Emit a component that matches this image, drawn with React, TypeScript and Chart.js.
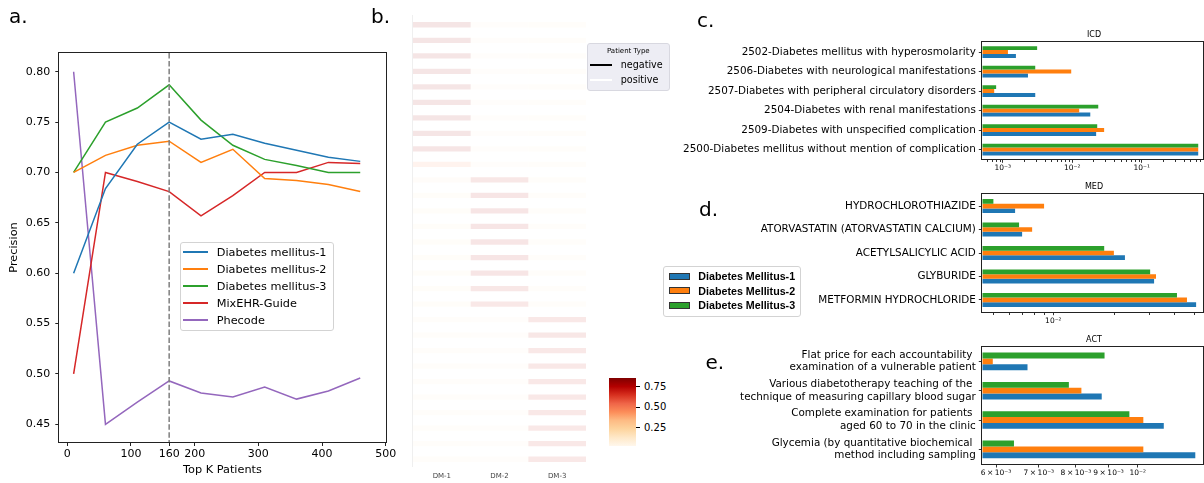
import React, { useEffect, useRef } from 'react';
import { Chart, registerables } from 'chart.js';

Chart.register(...registerables);

const FONT = "'DejaVu Sans', sans-serif";
const LEGEND_FONT = "'Liberation Sans', Arial, sans-serif";

// ---------- Panel a: precision vs top K ----------
const K_VALUES = [10, 60, 110, 160, 210, 260, 310, 360, 410, 460];
const DM1_PRECISION = [0.600, 0.684, 0.728, 0.750, 0.733, 0.738, 0.729, 0.722, 0.715, 0.711];
const DM2_PRECISION = [0.700, 0.717, 0.727, 0.731, 0.710, 0.723, 0.694, 0.692, 0.688, 0.681];
const DM3_PRECISION = [0.700, 0.750, 0.764, 0.787, 0.752, 0.727, 0.713, 0.707, 0.700, 0.700];
const MIXEHR_PRECISION = [0.500, 0.700, 0.691, 0.681, 0.657, 0.677, 0.700, 0.700, 0.710, 0.709];
const PHECODE_PRECISION = [0.800, 0.450, 0.472, 0.493, 0.481, 0.477, 0.487, 0.475, 0.483, 0.496];
const LINE_NAMES = ['Diabetes mellitus-1', 'Diabetes mellitus-2', 'Diabetes mellitus-3', 'MixEHR-Guide', 'Phecode'];
const LINE_COLORS = ['#1f77b4', '#ff7f0e', '#2ca02c', '#d62728', '#9467bd'];
const K_TICKS = [0, 100, 160, 200, 300, 400, 500];
const PRECISION_TICKS = [0.45, 0.5, 0.55, 0.6, 0.65, 0.7, 0.75, 0.8];
const CUTOFF_K = 160;

// ---------- Panel b: heatmap ----------
const HEAT_COLUMNS = ['DM-1', 'DM-2', 'DM-3'];
const HEAT_ROWS = Array.from({ length: 29 }, (_, i) => `patient ${i + 1}`);
const DM1_HEAT = [0.80, 0.80, 0.80, 0.80, 0.80, 0.80, 0.80, 0.80, 0.78, 0.45,
  0.14, 0.13, 0.13, 0.13, 0.13, 0.13, 0.13, 0.13, 0.13,
  0.11, 0.11, 0.11, 0.11, 0.11, 0.11, 0.11, 0.11, 0.11, 0.11];
const DM2_HEAT = [0.08, 0.08, 0.08, 0.08, 0.08, 0.08, 0.08, 0.08, 0.08, 0.08,
  0.72, 0.75, 0.75, 0.75, 0.75, 0.75, 0.75, 0.72, 0.70,
  0.08, 0.08, 0.08, 0.08, 0.08, 0.08, 0.08, 0.08, 0.08, 0.08];
const DM3_HEAT = [0.10, 0.10, 0.10, 0.10, 0.10, 0.10, 0.10, 0.10, 0.10, 0.10,
  0.10, 0.10, 0.10, 0.10, 0.10, 0.10, 0.10, 0.10, 0.10,
  0.70, 0.72, 0.70, 0.70, 0.70, 0.70, 0.70, 0.70, 0.70, 0.70];
const HEAT_MIN = 0.02;
const HEAT_MAX = 0.86;
const COLORBAR_TICKS = [0.75, 0.5, 0.25];
const ORRD = [
  [255, 247, 236], [254, 232, 200], [253, 212, 158], [253, 187, 132], [252, 141, 89],
  [239, 101, 72], [215, 48, 31], [179, 0, 0], [127, 0, 0],
];

// ---------- Panels c, d, e ----------
const BAR_NAMES = ['Diabetes Mellitus-1', 'Diabetes Mellitus-2', 'Diabetes Mellitus-3'];
const BLUE = '#1f77b4';
const ORANGE = '#ff7f0e';
const GREEN = '#2ca02c';

const ICD_LABELS = [
  '2502-Diabetes mellitus with hyperosmolarity',
  '2506-Diabetes with neurological manifestations',
  '2507-Diabetes with peripheral circulatory disorders',
  '2504-Diabetes with renal manifestations',
  '2509-Diabetes with unspecified complication',
  '2500-Diabetes mellitus without mention of complication',
];
const ICD_DM1 = [0.00155, 0.00231, 0.00294, 0.0182, 0.0221, 0.65];
const ICD_DM2 = [0.00119, 0.00968, 0.000755, 0.0126, 0.0288, 0.65];
const ICD_DM3 = [0.00313, 0.00294, 0.000805, 0.0237, 0.0229, 0.65];
const ICD_TICKS = [0.001, 0.01, 0.1];

const MED_LABELS = [
  'HYDROCHLOROTHIAZIDE',
  'ATORVASTATIN (ATORVASTATIN CALCIUM)',
  'ACETYLSALICYLIC ACID',
  'GLYBURIDE',
  'METFORMIN HYDROCHLORIDE',
];
const MED_DM1 = [0.00645, 0.00699, 0.0227, 0.0317, 0.0513];
const MED_DM2 = [0.00899, 0.00784, 0.0200, 0.0324, 0.0462];
const MED_DM3 = [0.00503, 0.00675, 0.0179, 0.0303, 0.0412];
const MED_TICKS = [0.01];

const ACT_LABELS = [
  ['Flat price for each accountability ', 'examination of a vulnerable patient'],
  ['Various diabetotherapy teaching of the ', 'technique of measuring capillary blood sugar'],
  ['Complete examination for patients ', 'aged 60 to 70 in the clinic'],
  ['Glycemia (by quantitative biochemical ', 'method including sampling'],
];
const ACT_DM1 = [0.00672, 0.00878, 0.01098, 0.0123];
const ACT_DM2 = [0.00593, 0.00816, 0.0102, 0.0102];
const ACT_DM3 = [0.00887, 0.0078, 0.0097, 0.0064];
const ACT_TICKS = [0.006, 0.007, 0.008, 0.009, 0.01];

// ---------- helpers ----------
function orrd(v: number, alpha: number) {
  const t = Math.max(0, Math.min(1, (v - HEAT_MIN) / (HEAT_MAX - HEAT_MIN))) * (ORRD.length - 1);
  const i = Math.min(ORRD.length - 2, Math.floor(t));
  const f = t - i;
  const c = ORRD[i].map((a, k) => Math.round(a + (ORRD[i + 1][k] - a) * f));
  return `rgba(${c[0]},${c[1]},${c[2]},${alpha})`;
}

const SUP: Record<string, string> = { '-': '⁻', '0': '⁰', '1': '¹', '2': '²', '3': '³', '4': '⁴', '5': '⁵', '6': '⁶', '7': '⁷', '8': '⁸', '9': '⁹' };
function logLabel(v: number) {
  const e = Math.floor(Math.log10(v) + 1e-9);
  const m = Math.round(v / Math.pow(10, e));
  const pow = '10' + String(e).split('').map((ch) => SUP[ch]).join('');
  return m === 1 ? pow : `${m}\u2009×\u200910${String(e).split('').map((ch) => SUP[ch]).join('')}`;
}

const framePlugin = {
  id: 'frame',
  afterDraw(chart: any, _args: any, opts: any) {
    if (!opts || !opts.show) return;
    const { ctx, chartArea: a } = chart;
    ctx.save();
    ctx.strokeStyle = opts.color || '#222';
    ctx.lineWidth = 1;
    const l = Math.round(a.left) - 0.5;
    const t = Math.round(a.top) - 0.5;
    const r = Math.round(a.right) + 0.5;
    const b = Math.round(a.bottom) + 0.5;
    ctx.strokeRect(l, t, r - l, b - t);
    ctx.restore();
  },
};

const vlinePlugin = {
  id: 'vline',
  afterDatasetsDraw(chart: any, _args: any, opts: any) {
    if (!opts || opts.value === undefined) return;
    const { ctx, chartArea: a, scales } = chart;
    const x = scales.x.getPixelForValue(opts.value);
    ctx.save();
    ctx.strokeStyle = '#7f7f7f';
    ctx.lineWidth = 1.5;
    ctx.setLineDash([5.5, 2.4]);
    ctx.beginPath();
    ctx.moveTo(x, a.top);
    ctx.lineTo(x, a.bottom);
    ctx.stroke();
    ctx.restore();
  },
};

const minorTickPlugin = {
  id: 'minorTicks',
  afterDraw(chart: any, _args: any, opts: any) {
    if (!opts || !opts.enabled) return;
    const scale = chart.scales.x;
    const { ctx } = chart;
    const bottom = Math.round(chart.chartArea.bottom) + 1;
    const skip: number[] = opts.skip || [];
    ctx.save();
    ctx.strokeStyle = '#000';
    ctx.lineWidth = 0.8;
    const lo = Math.floor(Math.log10(scale.min));
    const hi = Math.ceil(Math.log10(scale.max));
    for (let e = lo; e <= hi; e++) {
      for (let m = 1; m <= 9; m++) {
        const v = m * Math.pow(10, e);
        if (v < scale.min || v > scale.max) continue;
        if (skip.some((s) => Math.abs(s - v) / v < 1e-6)) continue;
        const x = Math.round(scale.getPixelForValue(v)) + 0.5;
        ctx.beginPath();
        ctx.moveTo(x, bottom);
        ctx.lineTo(x, bottom + 2);
        ctx.stroke();
      }
    }
    ctx.restore();
  },
};

function makeLineChart() {
  const series = [DM1_PRECISION, DM2_PRECISION, DM3_PRECISION, MIXEHR_PRECISION, PHECODE_PRECISION];
  return {
    type: 'line',
    data: {
      datasets: series.map((vals, i) => ({
        label: LINE_NAMES[i],
        data: K_VALUES.map((k, j) => ({ x: k, y: vals[j] })),
        borderColor: LINE_COLORS[i],
        backgroundColor: LINE_COLORS[i],
        borderWidth: 1.5,
        pointRadius: 0,
        fill: false,
        tension: 0,
      })),
    },
    options: {
      responsive: false,
      animation: false,
      events: [],
      layout: { padding: { top: 53, right: 14.3, left: 0, bottom: 0 } },
      plugins: {
        legend: { display: false },
        tooltip: { enabled: false },
        frame: { show: true },
        vline: { value: CUTOFF_K },
      },
      scales: {
        x: {
          type: 'linear',
          min: -12.5,
          max: 500,
          afterBuildTicks: (s: any) => { s.ticks = K_TICKS.map((v) => ({ value: v })); },
          afterFit: (s: any) => { s.height = 41; },
          grid: { drawOnChartArea: false, drawTicks: true, tickLength: 4, color: '#222' },
          border: { display: false },
          ticks: {
            font: { family: FONT, size: 11 }, color: '#000', padding: 1.4,
            maxRotation: 0, autoSkip: false, callback: (_v: any, i: number) => String(K_TICKS[i]),
          },
          title: { display: true, text: 'Top K Patients', font: { family: FONT, size: 11.3 }, color: '#000', padding: { top: 0, bottom: 6.4 } },
        },
        y: {
          type: 'linear',
          min: 0.4324,
          max: 0.8186,
          afterBuildTicks: (s: any) => { s.ticks = PRECISION_TICKS.map((v) => ({ value: v })); },
          afterFit: (s: any) => { s.width = 59.3; },
          grid: { drawOnChartArea: false, drawTicks: true, tickLength: 4, color: '#222' },
          border: { display: false },
          ticks: {
            font: { family: FONT, size: 11 }, color: '#000', padding: 5,
            autoSkip: false, callback: (_v: any, i: number) => PRECISION_TICKS[i].toFixed(2),
          },
          title: { display: true, text: 'Precision', font: { family: FONT, size: 11.3 }, color: '#000', padding: { top: 7, bottom: 0 } },
        },
      },
    },
    plugins: [framePlugin, vlinePlugin],
  };
}

function makeHeatmap() {
  const columns = [DM1_HEAT, DM2_HEAT, DM3_HEAT];
  return {
    type: 'bar',
    data: {
      labels: HEAT_ROWS,
      datasets: columns.map((vals, ci) => ({
        label: HEAT_COLUMNS[ci],
        data: vals.map(() => 1),
        backgroundColor: vals.map((v) => orrd(v, 0.1)),
        borderWidth: 0,
        barPercentage: 0.34,
        categoryPercentage: 1,
      })),
    },
    options: {
      indexAxis: 'y',
      responsive: false,
      animation: false,
      events: [],
      layout: { padding: { left: 18, right: 14, top: 17, bottom: 0 } },
      plugins: { legend: { display: false }, tooltip: { enabled: false } },
      scales: {
        x: {
          type: 'linear',
          stacked: true,
          min: 0,
          max: 3,
          afterBuildTicks: (s: any) => { s.ticks = HEAT_COLUMNS.map((_c, i) => ({ value: i + 0.5 })); },
          afterFit: (s: any) => { s.height = 16; },
          ticks: {
            callback: (_v: any, i: number) => HEAT_COLUMNS[i],
            font: { family: FONT, size: 7 }, color: '#444', padding: 4.8, maxRotation: 0, autoSkip: false,
          },
          grid: { display: false, drawTicks: false },
          border: { display: false },
        },
        y: { stacked: true, display: false },
      },
    },
  };
}

function makeLogBars(
  labels: any[], dm1: number[], dm2: number[], dm3: number[],
  xmin: number, xmax: number, ticks: number[],
  geom: { top: number; right: number; yw: number; xh: number; xpad: number },
) {
  return {
    type: 'bar',
    data: {
      labels,
      datasets: [
        { label: BAR_NAMES[2], data: dm3, backgroundColor: GREEN },
        { label: BAR_NAMES[1], data: dm2, backgroundColor: ORANGE },
        { label: BAR_NAMES[0], data: dm1, backgroundColor: BLUE },
      ],
    },
    options: {
      indexAxis: 'y',
      responsive: false,
      animation: false,
      events: [],
      datasets: { bar: { categoryPercentage: 0.6, barPercentage: 1, borderWidth: 0 } },
      layout: { padding: { top: geom.top, right: geom.right, left: 0, bottom: 0 } },
      plugins: {
        legend: { display: false },
        tooltip: { enabled: false },
        frame: { show: true },
        minorTicks: { enabled: true, skip: ticks },
      },
      scales: {
        x: {
          type: 'logarithmic',
          min: xmin,
          max: xmax,
          afterBuildTicks: (s: any) => { s.ticks = ticks.map((v) => ({ value: v })); },
          afterFit: (s: any) => { s.height = geom.xh; },
          ticks: {
            callback: (_v: any, i: number) => logLabel(ticks[i]),
            font: { family: FONT, size: 7.5 }, color: '#000', padding: geom.xpad,
            maxRotation: 0, autoSkip: false,
          },
          grid: { drawOnChartArea: false, tickLength: 3.5, color: '#000', lineWidth: 0.8 },
          border: { display: false },
        },
        y: {
          type: 'category',
          afterFit: (s: any) => { s.width = geom.yw; },
          ticks: { font: { family: FONT, size: 10.4 }, color: '#000', padding: 3, autoSkip: false },
          grid: { drawOnChartArea: false, offset: false, tickLength: 3.5, color: '#000', lineWidth: 0.8 },
          border: { display: false },
        },
      },
    },
    plugins: [framePlugin, minorTickPlugin],
  };
}

function ChartBox({ left, top, width, height, make }: { left: number; top: number; width: number; height: number; make: () => any }) {
  const ref = useRef<HTMLCanvasElement | null>(null);
  useEffect(() => {
    if (!ref.current) return;
    const chart = new Chart(ref.current, make());
    return () => chart.destroy();
  }, []);
  return (
    <canvas
      ref={ref}
      width={width}
      height={height}
      style={{ position: 'absolute', left, top, width, height, display: 'block' }}
    />
  );
}

function T({ x, y, size, children, anchor = 'start', weight = 400, family = FONT, color = '#000' }: any) {
  const transform = anchor === 'middle' ? 'translateX(-50%)' : anchor === 'end' ? 'translateX(-100%)' : undefined;
  return (
    <div
      style={{
        position: 'absolute', left: x, top: y - 0.846 * size, fontSize: size, lineHeight: `${size}px`,
        fontFamily: family, fontWeight: weight, color, whiteSpace: 'pre', transform,
      }}
    >
      {children}
    </div>
  );
}

function Box({ x, y, w, h, style }: any) {
  return <div style={{ position: 'absolute', left: x, top: y, width: w, height: h, boxSizing: 'border-box', ...style }} />;
}

export default function App() {
  const gradient = `linear-gradient(to top, ${ORRD.map((c, i) => `rgb(${c.join(',')}) ${(i / (ORRD.length - 1)) * 100}%`).join(', ')})`;
  const legendRowsA = [252, 269, 286, 303, 320];
  const legendRowsBars = [276, 290.7, 305.3];
  const barColors = [BLUE, ORANGE, GREEN];
  const cbTop = 378;
  const cbH = 68;
  const cbPix = (v: number) => cbTop + cbH * (1 - (v - HEAT_MIN) / (HEAT_MAX - HEAT_MIN));
  return (
    <div style={{ position: 'absolute', left: 0, top: 0, width: 1204, height: 483, background: '#fff', overflow: 'hidden' }}>
      <ChartBox left={0} top={0} width={400} height={483} make={makeLineChart} />
      <Box x={412} y={15} w={1} h={452} style={{ background: '#efefef' }} />
      <ChartBox left={395} top={0} width={205} height={483} make={makeHeatmap} />
      <ChartBox
        left={670} top={0} width={534} height={175}
        make={() => makeLogBars(ICD_LABELS, ICD_DM1, ICD_DM2, ICD_DM3, 5.09e-4, 0.769, ICD_TICKS,
          { top: 42.3, right: 0.7, yw: 312.3, xh: 15.7, xpad: 0.7 })}
      />
      <ChartBox
        left={670} top={175} width={534} height={155}
        make={() => makeLogBars(MED_LABELS, MED_DM1, MED_DM2, MED_DM3, 0.00443, 0.0557, MED_TICKS,
          { top: 19.3, right: 0.7, yw: 312.3, xh: 18.3, xpad: 1 })}
      />
      <ChartBox
        left={670} top={330} width={534} height={153}
        make={() => makeLogBars(ACT_LABELS, ACT_DM1, ACT_DM2, ACT_DM3, 0.00571, 0.01266, ACT_TICKS,
          { top: 16.7, right: 0.7, yw: 312.3, xh: 19, xpad: 0.7 })}
      />

      {/* panel letters */}
      <T x={9} y={23.3} size={20}>a.</T>
      <T x={371} y={23.3} size={20}>b.</T>
      <T x={697} y={27.3} size={20}>c.</T>
      <T x={699} y={216} size={20}>d.</T>
      <T x={705.5} y={369.3} size={20}>e.</T>

      {/* panel titles */}
      <T x={1094} y={38} size={8} anchor="middle">ICD</T>
      <T x={1094} y={189.3} size={8} anchor="middle">MED</T>
      <T x={1094} y={342.3} size={8} anchor="middle">ACT</T>

      {/* panel a legend */}
      <Box x={180} y={242} w={154} h={89} style={{ background: 'rgba(255,255,255,0.8)', border: '1px solid #d3d3d3', borderRadius: 3 }} />
      {LINE_NAMES.map((name, i) => (
        <React.Fragment key={name}>
          <Box x={183.3} y={legendRowsA[i] - 0.75} w={25} h={1.5} style={{ background: LINE_COLORS[i] }} />
          <T x={216.7} y={legendRowsA[i] + 4.1} size={11.3}>{name}</T>
        </React.Fragment>
      ))}

      {/* heatmap legend */}
      <Box x={587} y={43} w={83} h={48} style={{ background: 'rgba(234,234,242,0.85)', border: '1px solid #d8d8e0', borderRadius: 3 }} />
      <T x={628.3} y={54} size={7} anchor="middle">Patient Type</T>
      <Box x={590} y={64.3} w={22} h={1.5} style={{ background: '#000' }} />
      <T x={620.7} y={68.3} size={9.6}>negative</T>
      <Box x={590} y={79.3} w={22} h={1.5} style={{ background: '#fff' }} />
      <T x={620.7} y={83.3} size={9.6}>positive</T>

      {/* colorbar */}
      <Box x={609} y={cbTop} w={27} h={cbH} style={{ background: gradient }} />
      {COLORBAR_TICKS.map((v) => (
        <React.Fragment key={v}>
          <Box x={636} y={cbPix(v) - 0.5} w={3.5} h={1} style={{ background: '#000' }} />
          <T x={644} y={cbPix(v) + 3.65} size={10}>{v.toFixed(2)}</T>
        </React.Fragment>
      ))}

      {/* bar legend */}
      <Box x={663} y={266} w={138} h={51} style={{ background: 'rgba(255,255,255,0.9)', border: '1px solid #d3d3d3', borderRadius: 3 }} />
      {BAR_NAMES.map((name, i) => (
        <React.Fragment key={name}>
          <Box x={669} y={legendRowsBars[i] - 3.5} w={21} h={7} style={{ background: barColors[i], border: '1px solid #333' }} />
          <T x={698.3} y={legendRowsBars[i] + 3.9} size={10.7} weight={700} family={LEGEND_FONT}>{name}</T>
        </React.Fragment>
      ))}
    </div>
  );
}
